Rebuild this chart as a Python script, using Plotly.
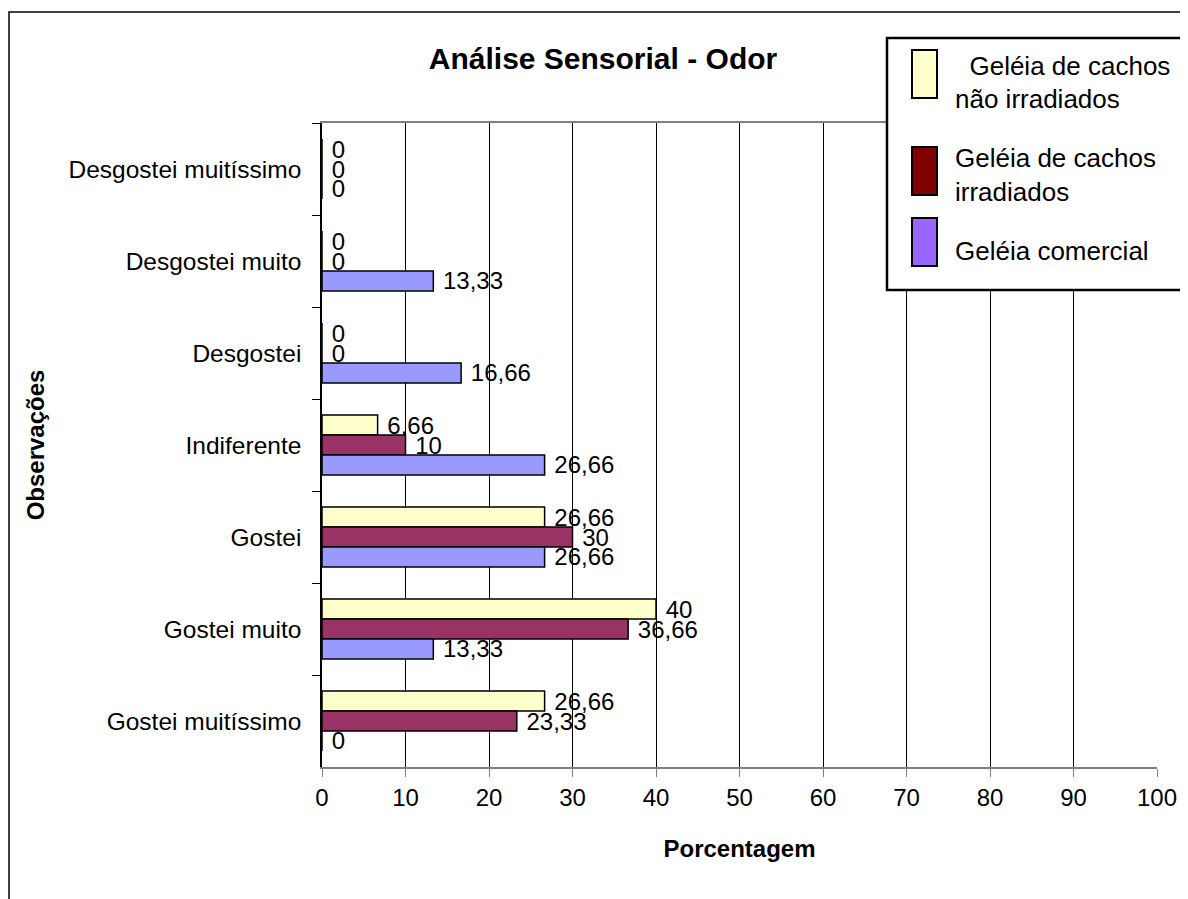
import plotly.graph_objects as go

categories = ["Desgostei muitíssimo", "Desgostei muito", "Desgostei", "Indiferente",
              "Gostei", "Gostei muito", "Gostei muitíssimo"]
series_names = ["\u00a0\u00a0Geléia de cachos<br>não irradiados",
                "Geléia de cachos<br>irradiados",
                "Geléia comercial"]
nao_irradiados = [0, 0, 0, 6.66, 26.66, 40, 26.66]
irradiados = [0, 0, 0, 10, 30, 36.66, 23.33]
comercial = [0, 13.33, 16.66, 26.66, 26.66, 13.33, 0]
x_ticks = [0, 10, 20, 30, 40, 50, 60, 70, 80, 90, 100]

series_values = [nao_irradiados, irradiados, comercial]
bar_colors = ["#FFFFCC", "#993366", "#9999FF"]
legend_colors = ["#FFFFCC", "#800000", "#9966FF"]
FONT = "Liberation Sans, Arial, sans-serif"

def fmt(v):
    return "\u00a0" + f"{v:g}".replace(".", ",")

fig = go.Figure()
for vals, col in zip(series_values, bar_colors):
    fig.add_trace(go.Bar(
        y=categories, x=vals, orientation="h",
        marker=dict(color=col, line=dict(color="black", width=1.5)),
        text=[fmt(v) for v in vals], textposition="outside",
        textfont=dict(size=24, color="black", family=FONT),
        constraintext="none", cliponaxis=False, showlegend=False,
        hoverinfo="x+y",
    ))

# legend entries (legend swatch colours differ from bars in the original)
for i, (name, col) in enumerate(zip(series_names, legend_colors)):
    fig.add_trace(go.Bar(
        y=[None], x=[None], orientation="h", name=name,
        marker=dict(color=col, line=dict(color=col, width=0)),
        xaxis="x2", yaxis="y2", legendgroup=f"g{i}", showlegend=True,
    ))

# page has an 8px body margin; work in page pixels and convert
OX, OY = 8, 8
W, H = 1188 - OX, 899 - OY
L, T = 322 - OX, 123 - OY
R, B = 1188 - 1157, 899 - 767
pw, ph = W - L - R, H - T - B

def px_x(p):
    return (p - OX - L) / pw

def px_y(p):
    return (H - B - (p - OY)) / ph

legend_shapes = [dict(type="rect", xref="paper", yref="paper",
                      x0=px_x(887), x1=px_x(1200), y0=px_y(290), y1=px_y(38),
                      fillcolor="white", line=dict(color="black", width=2.5),
                      layer="above")]
swatch_tops = [50, 147, 218]
for top, col in zip(swatch_tops, legend_colors):
    legend_shapes.append(dict(type="rect", xref="paper", yref="paper",
                              x0=px_x(912), x1=px_x(937),
                              y0=px_y(top + 48), y1=px_y(top),
                              fillcolor=col, line=dict(color="black", width=2),
                              layer="above"))

fig.update_layout(
    width=W, height=H,
    margin=dict(l=L, r=R, t=T, b=B, autoexpand=False),
    paper_bgcolor="white", plot_bgcolor="white",
    font=dict(family=FONT, size=24, color="black"),
    barmode="group", bargap=0.35, bargroupgap=0,
    title=dict(text="<b>Análise Sensorial - Odor</b>", x=(603 - OX) / W, xanchor="center",
               y=1 - (58 - OY) / H, yanchor="middle", yref="container",
               font=dict(size=30, family=FONT, color="black")),
    xaxis=dict(range=[0, 100], tickvals=x_ticks, showgrid=True, gridcolor="black",
               gridwidth=1, zeroline=False, showline=True, linecolor="#808080",
               linewidth=1.5, mirror=True, ticks="outside", ticklen=8,
               tickcolor="#808080", tickfont=dict(size=24), ticklabelstandoff=0,
               title=dict(text="<b>Porcentagem</b>", font=dict(size=24), standoff=31)),
    yaxis=dict(autorange="reversed", type="category", showgrid=False,
               showline=True, linecolor="black", linewidth=1.5, ticks="outside",
               tickson="boundaries", ticklen=8, tickcolor="black",
               tickfont=dict(size=24.5), ticklabelstandoff=14,
               title=dict(text="<b>Observações</b>", font=dict(size=24), standoff=17)),
    xaxis2=dict(visible=False, overlaying="x", range=[0, 1]),
    yaxis2=dict(visible=False, overlaying="y", range=[0, 1]),
    legend=dict(x=px_x(887), y=px_y(41), xanchor="left", yanchor="top",
                borderwidth=0, bgcolor="rgba(0,0,0,0)",
                font=dict(size=26, family=FONT, color="black"),
                traceorder="grouped", tracegroupgap=22, itemwidth=58),
    shapes=[dict(type="rect", xref="paper", yref="paper",
                 x0=px_x(9), x1=1.2, y0=-0.5, y1=px_y(12),
                 line=dict(color="black", width=1.5), layer="below")] + legend_shapes,
)

fig.write_html("out.html")
